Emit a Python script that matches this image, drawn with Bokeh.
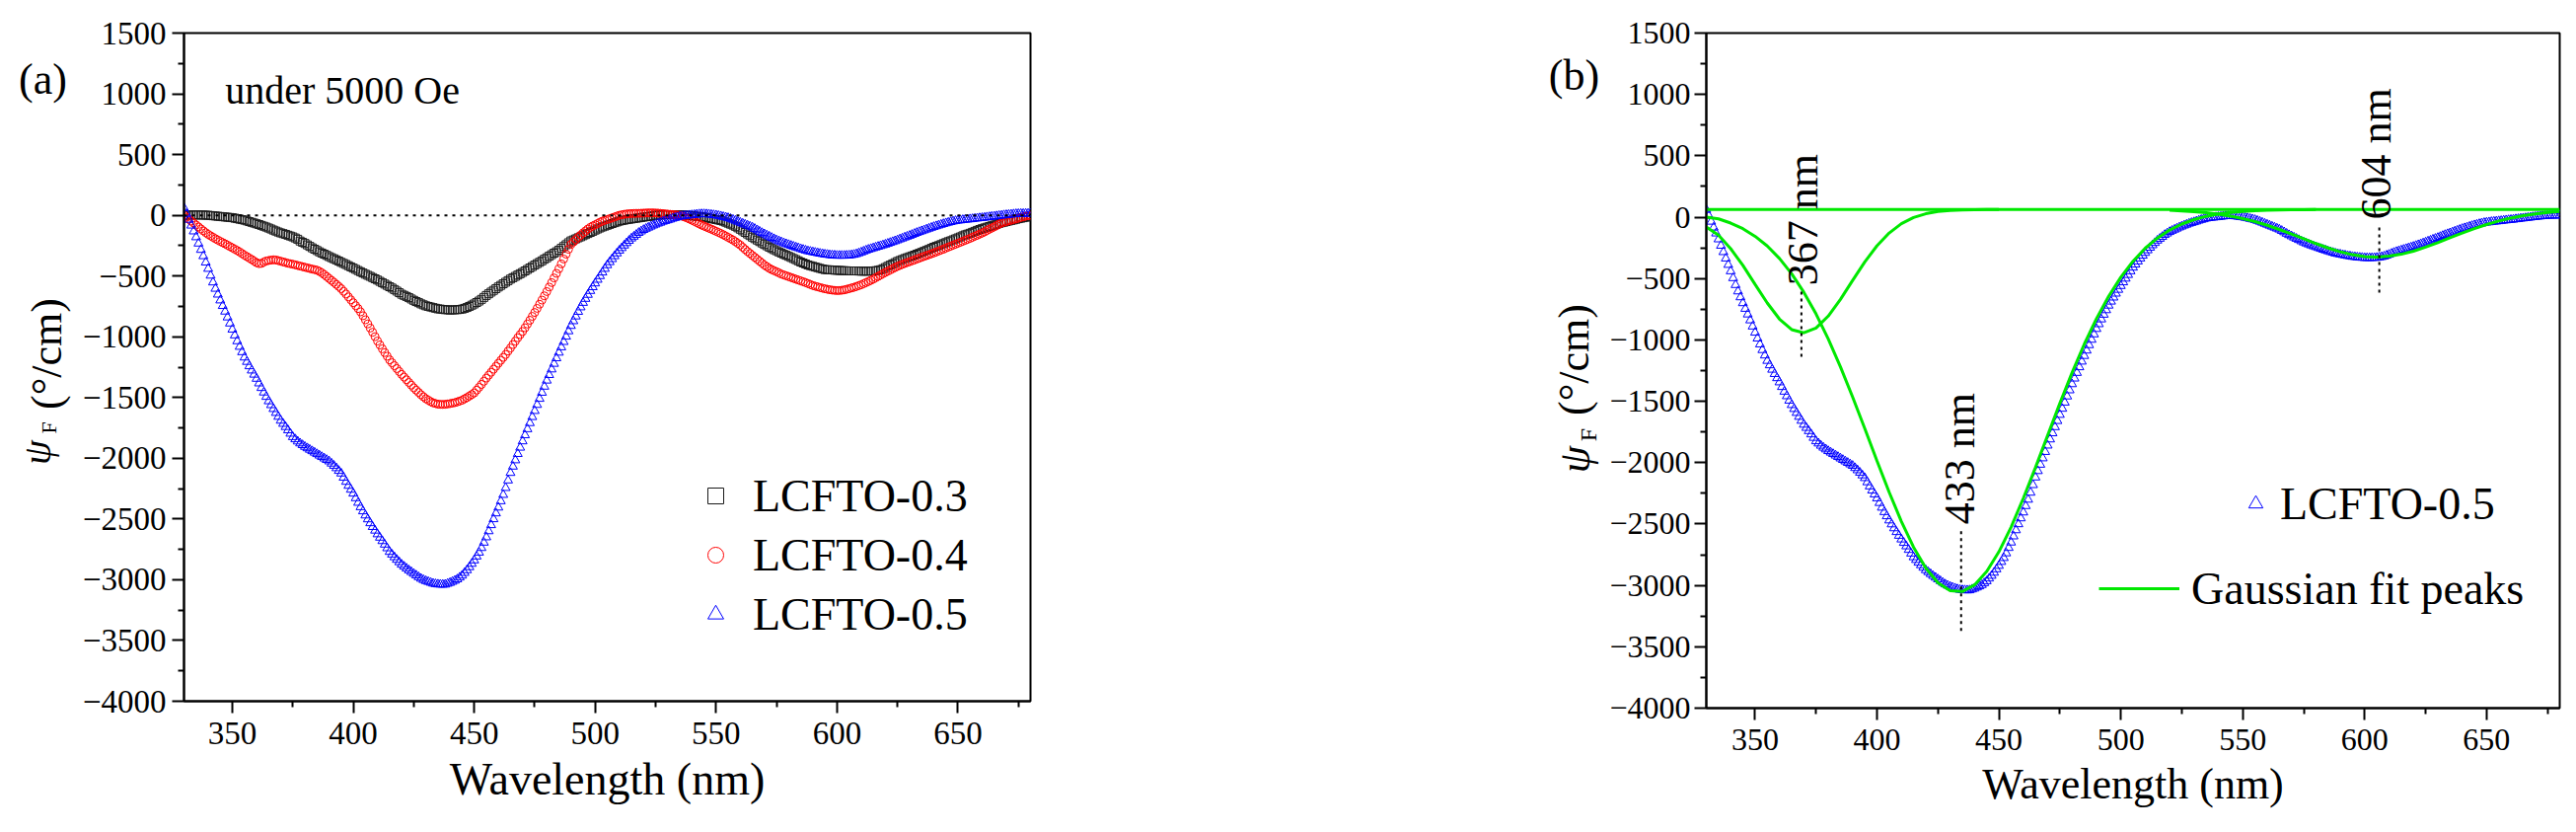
import math
from bokeh.plotting import figure
from bokeh.models import FixedTicker, Legend, LegendItem, Label, Span, Range1d
from bokeh.layouts import row
from bokeh.embed import file_html
from bokeh.resources import INLINE

# ---------------- data ----------------
wavelength = [
    330, 331, 332, 333, 334, 335, 336, 337, 338, 339,
    340, 341, 342, 343, 344, 345, 346, 347, 348, 349,
    350, 351, 352, 353, 354, 355, 356, 357, 358, 359,
    360, 361, 362, 363, 364, 365, 366, 367, 368, 369,
    370, 371, 372, 373, 374, 375, 376, 377, 378, 379,
    380, 381, 382, 383, 384, 385, 386, 387, 388, 389,
    390, 391, 392, 393, 394, 395, 396, 397, 398, 399,
    400, 401, 402, 403, 404, 405, 406, 407, 408, 409,
    410, 411, 412, 413, 414, 415, 416, 417, 418, 419,
    420, 421, 422, 423, 424, 425, 426, 427, 428, 429,
    430, 431, 432, 433, 434, 435, 436, 437, 438, 439,
    440, 441, 442, 443, 444, 445, 446, 447, 448, 449,
    450, 451, 452, 453, 454, 455, 456, 457, 458, 459,
    460, 461, 462, 463, 464, 465, 466, 467, 468, 469,
    470, 471, 472, 473, 474, 475, 476, 477, 478, 479,
    480, 481, 482, 483, 484, 485, 486, 487, 488, 489,
    490, 491, 492, 493, 494, 495, 496, 497, 498, 499,
    500, 501, 502, 503, 504, 505, 506, 507, 508, 509,
    510, 511, 512, 513, 514, 515, 516, 517, 518, 519,
    520, 521, 522, 523, 524, 525, 526, 527, 528, 529,
    530, 531, 532, 533, 534, 535, 536, 537, 538, 539,
    540, 541, 542, 543, 544, 545, 546, 547, 548, 549,
    550, 551, 552, 553, 554, 555, 556, 557, 558, 559,
    560, 561, 562, 563, 564, 565, 566, 567, 568, 569,
    570, 571, 572, 573, 574, 575, 576, 577, 578, 579,
    580, 581, 582, 583, 584, 585, 586, 587, 588, 589,
    590, 591, 592, 593, 594, 595, 596, 597, 598, 599,
    600, 601, 602, 603, 604, 605, 606, 607, 608, 609,
    610, 611, 612, 613, 614, 615, 616, 617, 618, 619,
    620, 621, 622, 623, 624, 625, 626, 627, 628, 629,
    630, 631, 632, 633, 634, 635, 636, 637, 638, 639,
    640, 641, 642, 643, 644, 645, 646, 647, 648, 649,
    650, 651, 652, 653, 654, 655, 656, 657, 658, 659,
    660, 661, 662, 663, 664, 665, 666, 667, 668, 669,
    670, 671, 672, 673, 674, 675, 676, 677, 678, 679,
    680,
]

lcfto_03 = [
    0, 1, 2, 2, 3, 3, 3, 2, 2, 1,
    0, -2, -4, -6, -8, -10, -12, -14, -16, -18,
    -20, -24, -28, -32, -36, -40, -46, -52, -58, -64,
    -70, -76, -83, -90, -97, -105, -113, -122, -130, -138,
    -145, -151, -157, -164, -171, -178, -187, -197, -212, -222,
    -232, -244, -256, -268, -279, -290, -301, -311, -320, -330,
    -340, -349, -358, -367, -377, -387, -396, -405, -415, -425,
    -435, -445, -455, -465, -475, -485, -494, -503, -513, -523,
    -533, -544, -555, -566, -577, -588, -599, -611, -624, -637,
    -650, -659, -668, -678, -689, -700, -710, -719, -729, -737,
    -745, -750, -755, -760, -765, -770, -772, -775, -777, -778,
    -780, -779, -778, -777, -775, -772, -766, -759, -750, -740,
    -730, -718, -706, -692, -676, -660, -646, -632, -618, -604,
    -590, -577, -564, -551, -538, -525, -514, -503, -492, -481,
    -470, -458, -446, -434, -422, -410, -398, -387, -375, -362,
    -350, -337, -324, -312, -300, -287, -272, -257, -242, -226,
    -211, -203, -194, -185, -177, -168, -159, -150, -141, -132,
    -122, -113, -104, -96, -89, -82, -75, -68, -61, -55,
    -48, -44, -40, -36, -33, -30, -27, -24, -21, -18,
    -15, -12, -10, -7, -4, 0, 1, 2, 4, 4,
    5, 5, 5, 5, 4, 3, 2, 1, 0, -2,
    -4, -6, -8, -10, -12, -15, -19, -23, -27, -31,
    -35, -39, -43, -49, -57, -65, -73, -81, -91, -103,
    -115, -128, -141, -154, -167, -180, -192, -204, -216, -228,
    -240, -251, -262, -273, -283, -292, -302, -311, -321, -329,
    -338, -347, -356, -365, -375, -385, -393, -401, -409, -415,
    -420, -426, -431, -437, -442, -447, -448, -449, -450, -452,
    -453, -454, -455, -456, -457, -458, -458, -458, -458, -459,
    -460, -460, -460, -460, -459, -458, -456, -453, -448, -440,
    -430, -420, -410, -400, -390, -380, -372, -364, -356, -349,
    -342, -335, -328, -320, -313, -305, -297, -289, -281, -272,
    -263, -256, -249, -241, -233, -225, -217, -210, -202, -194,
    -186, -178, -169, -161, -155, -148, -140, -132, -124, -117,
    -110, -104, -98, -92, -86, -80, -74, -67, -61, -57,
    -52, -47, -42, -38, -33, -28, -24, -20, -16, -13,
    -10,
]

lcfto_04 = [
    0, -16, -32, -48, -64, -80, -96, -112, -128, -143,
    -157, -169, -181, -193, -204, -215, -225, -235, -246, -257,
    -268, -279, -290, -302, -315, -328, -340, -352, -364, -377,
    -390, -398, -396, -385, -376, -372, -369, -366, -368, -373,
    -378, -384, -389, -395, -399, -403, -408, -413, -418, -423,
    -428, -433, -438, -443, -447, -452, -462, -474, -488, -504,
    -520, -536, -552, -569, -586, -604, -626, -648, -672, -696,
    -720, -744, -768, -795, -827, -860, -894, -928, -963, -999,
    -1035, -1067, -1099, -1130, -1160, -1190, -1214, -1238, -1262, -1286,
    -1310, -1332, -1354, -1376, -1398, -1420, -1439, -1458, -1477, -1494,
    -1510, -1522, -1534, -1544, -1549, -1555, -1556, -1557, -1556, -1553,
    -1550, -1546, -1542, -1536, -1529, -1522, -1511, -1500, -1488, -1475,
    -1462, -1439, -1416, -1392, -1366, -1340, -1316, -1292, -1267, -1243,
    -1218, -1194, -1170, -1146, -1118, -1092, -1064, -1036, -1008, -982,
    -956, -926, -895, -864, -832, -800, -766, -732, -698, -663,
    -628, -591, -554, -516, -478, -440, -400, -360, -320, -280,
    -240, -220, -200, -181, -163, -145, -129, -113, -99, -88,
    -78, -68, -57, -48, -41, -35, -28, -21, -14, -7,
    0, 4, 8, 11, 13, 14, 15, 16, 16, 17,
    18, 19, 20, 20, 20, 19, 18, 16, 14, 12,
    10, 8, 6, 4, 2, 0, -7, -14, -22, -31,
    -40, -50, -60, -70, -80, -89, -97, -106, -114, -123,
    -132, -141, -150, -160, -171, -182, -193, -204, -217, -231,
    -245, -263, -281, -298, -314, -330, -346, -362, -378, -394,
    -410, -423, -436, -447, -456, -465, -474, -484, -491, -498,
    -505, -512, -519, -526, -533, -540, -547, -554, -562, -570,
    -578, -584, -589, -595, -600, -605, -609, -613, -616, -618,
    -620, -619, -617, -614, -609, -604, -598, -593, -586, -579,
    -572, -563, -554, -545, -535, -525, -514, -503, -492, -481,
    -470, -460, -450, -440, -430, -420, -412, -404, -396, -389,
    -382, -375, -368, -360, -353, -345, -338, -331, -324, -317,
    -310, -302, -294, -286, -278, -270, -262, -254, -246, -238,
    -230, -222, -214, -206, -198, -190, -181, -172, -164, -155,
    -146, -136, -125, -115, -105, -95, -84, -73, -64, -58,
    -52, -46, -41, -35, -30, -24, -18, -13, -7, -3,
    0,
]

lcfto_05 = [
    60, 12, -36, -84, -132, -180, -232, -284, -336, -388,
    -440, -496, -552, -604, -652, -700, -746, -792, -840, -890,
    -940, -988, -1036, -1082, -1126, -1170, -1206, -1242, -1277, -1311,
    -1345, -1383, -1421, -1458, -1494, -1530, -1562, -1594, -1626, -1658,
    -1690, -1716, -1742, -1769, -1797, -1825, -1843, -1861, -1877, -1891,
    -1905, -1917, -1929, -1941, -1953, -1965, -1977, -1989, -2001, -2013,
    -2025, -2043, -2061, -2081, -2103, -2125, -2159, -2193, -2226, -2258,
    -2290, -2328, -2366, -2402, -2436, -2470, -2502, -2534, -2565, -2595,
    -2625, -2653, -2681, -2710, -2740, -2770, -2792, -2814, -2835, -2855,
    -2875, -2891, -2907, -2922, -2936, -2950, -2964, -2978, -2991, -3001,
    -3010, -3017, -3024, -3031, -3035, -3038, -3039, -3040, -3039, -3032,
    -3025, -3016, -3007, -2996, -2981, -2965, -2943, -2921, -2896, -2868,
    -2840, -2808, -2776, -2738, -2694, -2650, -2600, -2550, -2501, -2453,
    -2405, -2353, -2301, -2244, -2182, -2120, -2068, -2016, -1964, -1912,
    -1860, -1810, -1760, -1710, -1660, -1610, -1560, -1510, -1460, -1410,
    -1360, -1314, -1268, -1222, -1176, -1130, -1086, -1042, -998, -954,
    -910, -871, -832, -794, -757, -720, -687, -654, -622, -591,
    -560, -530, -500, -470, -440, -410, -385, -360, -336, -313,
    -290, -269, -248, -228, -209, -190, -175, -160, -144, -132,
    -120, -110, -101, -92, -83, -75, -67, -60, -52, -46,
    -40, -34, -27, -21, -16, -10, -7, -4, -2, 0,
    2, 4, 7, 9, 10, 10, 9, 8, 5, 2,
    0, -4, -8, -13, -17, -22, -29, -36, -44, -52,
    -60, -68, -76, -84, -92, -100, -111, -122, -134, -145,
    -155, -165, -175, -185, -195, -205, -213, -221, -229, -236,
    -243, -250, -257, -264, -270, -277, -283, -289, -295, -299,
    -303, -307, -311, -315, -318, -322, -324, -327, -329, -330,
    -332, -332, -332, -332, -331, -330, -327, -324, -319, -312,
    -305, -297, -289, -282, -276, -270, -264, -258, -252, -246,
    -240, -233, -226, -219, -212, -205, -197, -190, -182, -175,
    -168, -160, -152, -144, -137, -130, -123, -116, -109, -102,
    -95, -89, -83, -77, -71, -65, -60, -55, -50, -46,
    -43, -41, -38, -36, -34, -32, -30, -27, -25, -23,
    -21, -19, -16, -14, -11, -9, -7, -4, -2, 1,
    3, 5, 7, 9, 11, 12, 13, 13, 14, 14,
    15,
]

series_names = ["LCFTO-0.3", "LCFTO-0.4", "LCFTO-0.5"]

# Gaussian fit peaks (panel b)
fit_base_nm = [330, 680]
fit_base = [63, 63]

fit_367_nm = [330, 335, 340, 345, 350, 355, 360, 365, 370, 375, 380, 385, 390,
              395, 400, 405, 410, 415, 420, 425, 430, 435, 440, 445, 450]
fit_367 = [-80, -147, -257, -393, -547, -699, -830, -916, -942, -903, -806, -670, -515,
           -364, -233, -129, -53, -3, 28, 46, 55, 59, 61, 62, 63]

fit_433_nm = [330, 335, 340, 345, 350, 355, 360, 365, 370, 375,
              380, 385, 390, 395, 400, 405, 410, 415, 420, 425,
              430, 435, 440, 445, 450, 455, 460, 465, 470, 475,
              480, 485, 490, 495, 500, 505, 510, 515, 520, 525,
              530, 535, 540, 545, 550, 555, 560, 565, 570, 575, 580]
fit_433 = [0, -14, -48, -94, -156, -235, -336, -461, -612, -788,
           -992, -1219, -1465, -1723, -1986, -2241, -2479, -2689, -2858, -2979,
           -3044, -3050, -2996, -2887, -2726, -2525, -2291, -2038, -1776, -1515,
           -1267, -1035, -827, -645, -489, -359, -253, -170, -105, -56,
           -20, 7, 26, 38, 47, 53, 57, 59, 60, 61, 62]

fit_604_nm = [520, 525, 530, 535, 540, 545, 550, 555, 560, 565,
              570, 575, 580, 585, 590, 595, 600, 605, 610, 615,
              620, 625, 630, 635, 640, 645, 650, 655, 660, 665,
              670, 675, 680]
fit_604 = [56, 51, 45, 37, 25, 9, -12, -36, -66, -100,
           -137, -176, -215, -251, -282, -306, -321, -325, -318, -302,
           -277, -244, -207, -168, -130, -93, -60, -31, -7, 12,
           27, 39, 47]

# peak markers (panel b)
peak_labels = ["367 nm", "433 nm", "604 nm"]
peak_line_nm = [369.0, 434.5, 606.0]
peak_line_top = [-607, -2558, -84]
peak_line_bottom = [-1143, -3381, -620]

# axes
x_ticks = [350, 400, 450, 500, 550, 600, 650]
x_minor = [375, 425, 475, 525, 575, 625, 675]
y_ticks = [1500, 1000, 500, 0, -500, -1000, -1500, -2000, -2500, -3000, -3500, -4000]
y_tick_labels = ["1500", "1000", "500", "0", "\u2212500", "\u22121000", "\u22121500",
                 "\u22122000", "\u22122500", "\u22123000", "\u22123500", "\u22124000"]
y_minor = [1250, 750, 250, -250, -750, -1250, -1750, -2250, -2750, -3250, -3750]

SERIF = "Liberation Serif"
BLACK = "#000000"
DARK = "#1a1a1a"
RED = "#ff0000"
BLUE = "#0000ff"
GREEN = "#00e800"
H = 827


def style(p, tick_fs, label_fs):
    p.xgrid.visible = False
    p.ygrid.visible = False
    p.outline_line_color = BLACK
    p.outline_line_width = 2
    p.xaxis.ticker = FixedTicker(ticks=x_ticks, minor_ticks=x_minor)
    p.yaxis.ticker = FixedTicker(ticks=y_ticks, minor_ticks=y_minor)
    p.yaxis.major_label_overrides = {t: s for t, s in zip(y_ticks, y_tick_labels)}
    for ax in (p.xaxis[0], p.yaxis[0]):
        ax.axis_line_width = 2
        ax.axis_line_color = BLACK
        ax.major_tick_line_width = 2
        ax.minor_tick_line_width = 2
        ax.major_tick_line_color = BLACK
        ax.minor_tick_line_color = BLACK
        ax.major_tick_out = 12
        ax.major_tick_in = 0
        ax.minor_tick_out = 6
        ax.minor_tick_in = 0
        ax.major_label_text_font = SERIF
        ax.major_label_text_font_size = f"{tick_fs}px"
        ax.major_label_text_color = BLACK
    p.yaxis.major_label_standoff = 6
    p.xaxis.major_label_standoff = 9
    p.xaxis.axis_label = "Wavelength (nm)"
    p.xaxis.axis_label_text_font = SERIF
    p.xaxis.axis_label_text_font_style = "normal"
    p.xaxis.axis_label_text_font_size = f"{label_fs}px"
    p.xaxis.axis_label_text_color = BLACK
    p.xaxis.axis_label_standoff = 7


def text_fig(width):
    # a bare canvas (no axes) that holds the panel letter and the y-axis title
    f = figure(frame_width=width, frame_height=H, min_border=0,
               x_range=Range1d(0, width), y_range=Range1d(H, 0),
               x_axis_location=None, y_axis_location=None,
               output_backend="svg", toolbar_location=None)
    f.grid.visible = False
    f.outline_line_color = None
    return f


def add_ylabel(f, paren_xy, psi_xy, f_xy, psi_fs, sub_fs, letter, letter_xy):
    f.add_layout(Label(x=paren_xy[0], y=paren_xy[1], text="(\u00b0/cm)", angle=math.pi / 2,
                       text_align="center", text_baseline="alphabetic",
                       text_font=SERIF, text_font_size="44px", text_color=BLACK))
    f.add_layout(Label(x=psi_xy[0], y=psi_xy[1], text="\u03c8", angle=math.pi / 2,
                       text_align="center", text_baseline="alphabetic",
                       text_font=SERIF, text_font_style="italic",
                       text_font_size=f"{psi_fs}px", text_color=BLACK))
    f.add_layout(Label(x=f_xy[0], y=f_xy[1], text="F", angle=math.pi / 2,
                       text_align="center", text_baseline="alphabetic",
                       text_font=SERIF, text_font_size=f"{sub_fs}px", text_color=BLACK))
    f.add_layout(Label(x=letter_xy[0], y=letter_xy[1], text=letter, text_align="center",
                       text_baseline="middle", text_font=SERIF, text_font_size="44px",
                       text_color=BLACK))


# ---------------- left text strip for panel (a) ----------------
ta = text_fig(80)
add_ylabel(ta, (47, 325), (37, 425), (49, 400), 40, 22, "(a)", (43, 47))

# ---------------- panel (a) ----------------
pa = figure(frame_width=858, frame_height=677,
            min_border_left=103, min_border_right=497, min_border_top=33, min_border_bottom=117,
            x_range=Range1d(330, 680), y_range=Range1d(-4000, 1500),
            output_backend="svg", toolbar_location=None)
style(pa, 33, 46)

pa.add_layout(Span(location=0, dimension="width", line_color=BLACK, line_width=2,
                   line_dash="3 5"))

ra1 = pa.scatter(wavelength, lcfto_03, marker="square", size=8, fill_color=None,
                 line_color=DARK, line_width=1)
ra2 = pa.scatter(wavelength, lcfto_04, marker="circle", size=8, fill_color=None,
                 line_color=RED, line_width=1)
ra3 = pa.scatter(wavelength, lcfto_05, marker="triangle", size=9, fill_color=None,
                 line_color=BLUE, line_width=1)

leg_a = Legend(items=[LegendItem(label=series_names[0], renderers=[ra1]),
                      LegendItem(label=series_names[1], renderers=[ra2]),
                      LegendItem(label=series_names[2], renderers=[ra3])],
               location=(519, 58), orientation="vertical",
               glyph_width=40, glyph_height=60, label_height=60, label_standoff=18,
               spacing=0, padding=0, margin=0,
               border_line_alpha=0, background_fill_alpha=0,
               label_text_font=SERIF, label_text_font_size="46px", label_text_color=BLACK)
pa.add_layout(leg_a)

pa.add_layout(Label(x=347.0, y=1025, text="under 5000 Oe", text_align="left",
                    text_baseline="middle", text_font=SERIF, text_font_size="40px",
                    text_color=BLACK))

# ---------------- left text strip for panel (b) ----------------
tb = text_fig(86)
add_ylabel(tb, (54, 331), (55, 432), (68, 407), 44, 24, "(b)", (54, 43))

# ---------------- panel (b) ----------------
pb = figure(frame_width=865, frame_height=684,
            min_border_left=102, min_border_right=2, min_border_top=25, min_border_bottom=118,
            x_range=Range1d(330, 680), y_range=Range1d(-4000, 1500),
            output_backend="svg", toolbar_location=None)
style(pb, 32, 44)
pb.yaxis.major_label_standoff = 4

rb1 = pb.scatter(wavelength, lcfto_05, marker="triangle", size=9, fill_color=None,
                 line_color=BLUE, line_width=1)
pb.line(fit_base_nm, fit_base, line_color=GREEN, line_width=3)
pb.line(fit_367_nm, fit_367, line_color=GREEN, line_width=3)
rb2 = pb.line(fit_433_nm, fit_433, line_color=GREEN, line_width=3)
pb.line(fit_604_nm, fit_604, line_color=GREEN, line_width=3)

pb.segment(x0=peak_line_nm, y0=peak_line_top, x1=peak_line_nm, y1=peak_line_bottom,
           line_color=BLACK, line_width=2, line_dash="3 4")

peak_text_pos = [(369.6, -20), (433.9, -1966), (604.9, 515)]
for txt, (tx, ty) in zip(peak_labels, peak_text_pos):
    pb.add_layout(Label(x=tx, y=ty, text=txt, angle=math.pi / 2, text_align="center",
                        text_baseline="middle", text_font=SERIF, text_font_size="44px",
                        text_color=BLACK))

leg_b1 = Legend(items=[LegendItem(label=series_names[2], renderers=[rb1])],
                location=(539, 177), glyph_width=36, glyph_height=60, label_height=60,
                label_standoff=7, spacing=0, padding=0, margin=0,
                border_line_alpha=0, background_fill_alpha=0,
                label_text_font=SERIF, label_text_font_size="46px", label_text_color=BLACK)
leg_b2 = Legend(items=[LegendItem(label="Gaussian fit peaks", renderers=[rb2])],
                location=(398, 91), glyph_width=82, glyph_height=60, label_height=60,
                label_standoff=12, spacing=0, padding=0, margin=0,
                border_line_alpha=0, background_fill_alpha=0,
                label_text_font=SERIF, label_text_font_size="46px", label_text_color=BLACK)
pb.add_layout(leg_b1)
pb.add_layout(leg_b2)

layout = row(ta, pa, tb, pb)
open("out.html", "w").write(file_html(layout, INLINE))
